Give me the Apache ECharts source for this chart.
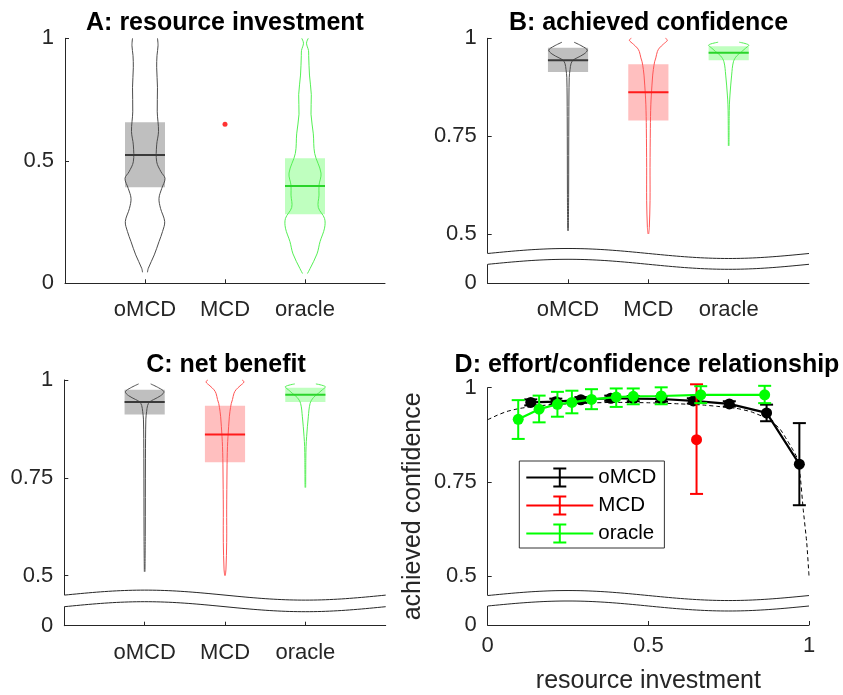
<!DOCTYPE html>
<html><head><meta charset="utf-8">
<script src="https://cdn.jsdelivr.net/npm/echarts@6/dist/echarts.min.js"></script>
<style>html,body{margin:0;padding:0;background:#fff}#c{width:843px;height:695px}</style>
</head><body><div id="c"></div>
<script>
// ---------- data ----------
const groups = ['oMCD', 'MCD', 'oracle'];

// Panel A: resource investment  [q1, median, q3]
const aBoxOMCD = [0.392, 0.524, 0.657];
const aBoxOracle = [0.282, 0.397, 0.510];
const aMCDValue = 0.649;
// violin outlines: [value, half-width in category units]
const aViolinOMCD = [[1.0,0.156],[0.97,0.163],[0.93,0.15],[0.88,0.146],[0.8,0.156],[0.7,0.153],[0.62,0.169],[0.565,0.146],[0.496,0.146],[0.455,0.2],[0.428,0.25],[0.387,0.209],[0.347,0.175],[0.306,0.194],[0.252,0.246],[0.211,0.219],[0.17,0.175],[0.116,0.116],[0.061,0.041],[0.045,0.031]];
const aViolinOracle = [[1.0,0.041],[0.98,0.019],[0.95,0.044],[0.93,0.046],[0.85,0.056],[0.77,0.079],[0.69,0.075],[0.61,0.104],[0.53,0.121],[0.45,0.2],[0.40,0.175],[0.36,0.175],[0.31,0.166],[0.265,0.244],[0.225,0.244],[0.17,0.188],[0.12,0.15],[0.06,0.063],[0.04,0.031]];

// Panel B: achieved confidence
const bBoxOMCD = [0.914, 0.944, 0.976];
const bBoxMCD = [0.790, 0.862, 0.934];
const bBoxOracle = [0.944, 0.963, 0.980];
const bViolinOMCD = [[0.99,0.075],[0.98,0.174],[0.97,0.24],[0.96,0.2],[0.95,0.112],[0.944,0.062],[0.935,0.037],[0.92,0.025],[0.9,0.015],[0.8,0.01],[0.6,0.0075],[0.508,0.004]];
const bViolinMCD = [[1.0,0.212],[0.995,0.237],[0.985,0.187],[0.975,0.137],[0.966,0.112],[0.95,0.093],[0.94,0.078],[0.92,0.062],[0.906,0.054],[0.855,0.037],[0.83,0.031],[0.8,0.027],[0.77,0.025],[0.67,0.021],[0.585,0.021],[0.517,0.012],[0.5,0.004]];
const bViolinOracle = [[0.99,0.131],[0.983,0.249],[0.975,0.212],[0.966,0.162],[0.955,0.1],[0.94,0.059],[0.906,0.037],[0.855,0.016],[0.83,0.009],[0.8,0.006],[0.725,0.004]];

// Panel C: net benefit
const cBoxOMCD = [0.912, 0.944, 0.975];
const cBoxMCD = [0.790, 0.861, 0.934];
const cBoxOracle = [0.944, 0.962, 0.980];
const cViolinOMCD = [[0.99,0.075],[0.98,0.174],[0.97,0.24],[0.96,0.2],[0.95,0.112],[0.944,0.062],[0.935,0.037],[0.92,0.025],[0.9,0.015],[0.8,0.01],[0.6,0.0075],[0.51,0.004]];
const cViolinMCD = [[1.0,0.212],[0.995,0.237],[0.985,0.187],[0.975,0.137],[0.966,0.112],[0.95,0.093],[0.94,0.078],[0.92,0.062],[0.906,0.054],[0.855,0.037],[0.83,0.031],[0.8,0.027],[0.77,0.025],[0.67,0.021],[0.585,0.021],[0.517,0.012],[0.5,0.004]];
const cViolinOracle = [[0.99,0.131],[0.983,0.249],[0.975,0.212],[0.966,0.162],[0.955,0.1],[0.94,0.059],[0.906,0.037],[0.855,0.016],[0.83,0.009],[0.8,0.006],[0.725,0.004]];

// Panel D: effort/confidence relationship
const dOMCDx  = [0.134, 0.212, 0.290, 0.383, 0.453, 0.541, 0.640, 0.752, 0.868, 0.970];
const dOMCDy  = [0.961, 0.963, 0.968, 0.972, 0.971, 0.970, 0.965, 0.957, 0.933, 0.797];
const dOMCDlo = [0.953, 0.955, 0.960, 0.965, 0.964, 0.963, 0.958, 0.950, 0.911, 0.688];
const dOMCDhi = [0.969, 0.971, 0.975, 0.979, 0.978, 0.977, 0.972, 0.964, 0.955, 0.906];
const dMCDx  = [0.650];
const dMCDy  = [0.862];
const dMCDlo = [0.718];
const dMCDhi = [1.009];
const dOracleX  = [0.095, 0.160, 0.217, 0.262, 0.323, 0.400, 0.453, 0.540, 0.663, 0.862];
const dOracleY  = [0.916, 0.943, 0.956, 0.961, 0.969, 0.975, 0.977, 0.978, 0.981, 0.981];
const dOracleLo = [0.864, 0.908, 0.923, 0.932, 0.943, 0.949, 0.956, 0.956, 0.959, 0.959];
const dOracleHi = [0.967, 0.979, 0.989, 0.992, 0.996, 0.998, 0.998, 1.001, 1.004, 1.005];
const dModelX = [0, 0.03, 0.06, 0.10, 0.15, 0.20, 0.30, 0.40, 0.50, 0.60, 0.67, 0.72, 0.775, 0.82, 0.868, 0.884, 0.91, 0.931, 0.95, 0.962, 0.972, 0.982, 0.993, 1.0];
const dModelY = [0.915, 0.927, 0.937, 0.945, 0.951, 0.955, 0.959, 0.961, 0.960, 0.957, 0.954, 0.950, 0.945, 0.936, 0.919, 0.910, 0.890, 0.862, 0.835, 0.815, 0.770, 0.677, 0.588, 0.5];

// tick labels
const catTicks = [1, 2, 3];
const aYTicks = [0, 0.5, 1];
const brokenYTicks = [0.5, 0.75, 1];
const dXTicks = [0, 0.5, 1];

// ---------- styles ----------
const F = "'Liberation Sans', Arial, Helvetica, sans-serif";
const AX = '#262626';
const COL = {
  oMCD:   {box: '#bfbfbf', med: '#3a3a3a', vio: '#4d4d4d', line: '#000000'},
  MCD:    {box: '#ffbfbf', med: '#ff1a1a', vio: '#ff5555', line: '#ff0000'},
  oracle: {box: '#bfffbf', med: '#2ad42a', vio: '#55f055', line: '#00ff00'}
};
const yMin = [0, 0.374, 0.372, 0.370];

function violinSeries(gi, xPos, box, violin, c) {
  return {
    type: 'custom', xAxisIndex: gi, yAxisIndex: gi, silent: true, clip: false, z: 3,
    data: [[xPos, box ? box[1] : violin[0][0]]],
    renderItem(params, api) {
      const ch = [];
      if (box) {
        const p1 = api.coord([xPos - 0.25, box[2]]), p2 = api.coord([xPos + 0.25, box[0]]);
        ch.push({type: 'rect', shape: {x: p1[0], y: p1[1], width: p2[0] - p1[0], height: p2[1] - p1[1]}, style: {fill: c.box}});
      }
      if (violin) {
        for (const s of [-1, 1]) {
          const pts = violin.map(([v, w]) => api.coord([xPos + s * w, v]));
          ch.push({type: 'polyline', shape: {points: pts, smooth: 0.35}, style: {stroke: c.vio, lineWidth: 1, fill: null}});
        }
      }
      if (box) {
        const m1 = api.coord([xPos - 0.25, box[1]]), m2 = api.coord([xPos + 0.25, box[1]]);
        ch.push({type: 'line', shape: {x1: m1[0], y1: m1[1], x2: m2[0], y2: m2[1]}, style: {stroke: c.med, lineWidth: 2}});
      }
      return {type: 'group', children: ch};
    }
  };
}

function zip(xs, ys) { return xs.map((x, i) => [x, ys[i]]); }
function errSeries(xs, ys, lo, hi, color, z) {
  return {
    type: 'custom', xAxisIndex: 3, yAxisIndex: 3, silent: true, clip: false, z: z,
    data: xs.map((x, i) => [x, ys[i], lo[i], hi[i]]),
    renderItem(params, api) {
      const x = api.value(0);
      const a = api.coord([x, api.value(2)]), b = api.coord([x, api.value(3)]);
      const w = 6.5, st = {stroke: color, lineWidth: 2};
      return {type: 'group', children: [
        {type: 'line', shape: {x1: a[0], y1: a[1], x2: b[0], y2: b[1]}, style: st},
        {type: 'line', shape: {x1: a[0] - w, y1: a[1], x2: a[0] + w, y2: a[1]}, style: st},
        {type: 'line', shape: {x1: b[0] - w, y1: b[1], x2: b[0] + w, y2: b[1]}, style: st}
      ]};
    }
  };
}
function lineSeries(name, xs, ys, color, z) {
  return {
    type: 'line', name: name, xAxisIndex: 3, yAxisIndex: 3, data: zip(xs, ys), z: z,
    symbol: 'circle', symbolSize: 11, showSymbol: true, silent: true, clip: false,
    lineStyle: {color: color, width: 2.2}, itemStyle: {color: color, borderWidth: 0},
    emphasis: {disabled: true}
  };
}

const grids = [
  {left: 65, top: 38.3, width: 320, height: 245},
  {left: 487.7, top: 38.3, width: 321.3, height: 245},
  {left: 64.3, top: 380, width: 321.4, height: 245.7},
  {left: 487.7, top: 387.7, width: 321.3, height: 238}
];

function baseAxisLine() { return {show: true, onZero: false, lineStyle: {color: AX, width: 1}}; }
function catXAxis(gi) {
  return {
    type: 'value', gridIndex: gi, min: 0, max: 4,
    axisLine: baseAxisLine(),
    axisTick: {show: true, inside: true, length: 4, customValues: catTicks, lineStyle: {color: AX}},
    axisLabel: {customValues: catTicks, formatter: v => groups[Math.round(v) - 1], fontSize: 22, color: AX, margin: 16, fontFamily: F},
    splitLine: {show: false}
  };
}
function brokenYAxis(gi) {
  const vals = [yMin[gi]].concat(brokenYTicks);
  return {
    type: 'value', gridIndex: gi, min: yMin[gi], max: 1,
    axisLine: baseAxisLine(),
    axisTick: {show: true, inside: true, length: 4, customValues: vals, lineStyle: {color: AX}},
    axisLabel: {customValues: vals, formatter: v => (v < 0.45 ? '0' : String(v)), fontSize: 22, color: AX, margin: 11, fontFamily: F},
    splitLine: {show: false}
  };
}

const titleStyle = {fontSize: 25, fontWeight: 'bold', color: '#000', fontFamily: F};
const option = {
  animation: false,
  backgroundColor: '#fff',
  title: [
    {text: 'A: resource investment', left: 225, top: 11, textAlign: 'center', padding: 0, textStyle: titleStyle},
    {text: 'B: achieved confidence', left: 648.5, top: 11, textAlign: 'center', padding: 0, textStyle: titleStyle},
    {text: 'C: net benefit', left: 226, top: 353, textAlign: 'center', padding: 0, textStyle: titleStyle},
    {text: 'D: effort/confidence relationship', left: 647, top: 353, textAlign: 'center', padding: 0, textStyle: titleStyle}
  ],
  grid: grids,
  xAxis: [
    catXAxis(0), catXAxis(1), catXAxis(2),
    {
      type: 'value', gridIndex: 3, min: 0, max: 1,
      axisLine: baseAxisLine(),
      axisTick: {show: true, inside: true, length: 4, customValues: dXTicks, lineStyle: {color: AX}},
      axisLabel: {customValues: dXTicks, formatter: v => String(v), fontSize: 22, color: AX, margin: 10, fontFamily: F},
      splitLine: {show: false},
      name: 'resource investment', nameLocation: 'middle', nameGap: 44,
      nameTextStyle: {fontSize: 25, color: AX, fontFamily: F}
    }
  ],
  yAxis: [
    {
      type: 'value', gridIndex: 0, min: 0, max: 1,
      axisLine: baseAxisLine(),
      axisTick: {show: true, inside: true, length: 4, customValues: aYTicks, lineStyle: {color: AX}},
      axisLabel: {customValues: aYTicks, formatter: v => String(v), fontSize: 22, color: AX, margin: 11, fontFamily: F},
      splitLine: {show: false}
    },
    brokenYAxis(1), brokenYAxis(2),
    Object.assign(brokenYAxis(3), {
      name: 'achieved confidence', nameLocation: 'middle', nameGap: 62, nameRotate: 90,
      nameTextStyle: {fontSize: 25, color: AX, fontFamily: F}
    })
  ],
  legend: {
    orient: 'vertical', left: 519.3, top: 461,
    padding: [6, 8, 4, 7], itemWidth: 67, itemHeight: 20, itemGap: 7,
    borderColor: '#333', borderWidth: 1, borderRadius: 0, backgroundColor: '#fff',
    selectedMode: false, symbolKeepAspect: false,
    icon: 'path://M0,9L67,9L67,11L0,11Z M32.5,0L34.5,0L34.5,20L32.5,20Z M27,0L40,0L40,2L27,2Z M27,18L40,18L40,20L27,20Z',
    itemStyle: {borderWidth: 0},
    textStyle: {fontSize: 20.5, color: '#000', fontFamily: F, lineHeight: 20},
    data: groups
  },
  series: [
    // Panel A
    violinSeries(0, 1, aBoxOMCD, aViolinOMCD, COL.oMCD),
    violinSeries(0, 3, aBoxOracle, aViolinOracle, COL.oracle),
    {type: 'scatter', xAxisIndex: 0, yAxisIndex: 0, data: [[2, aMCDValue]], symbolSize: 5, itemStyle: {color: '#ff0000'}, silent: true, z: 3},
    // Panel B
    violinSeries(1, 1, bBoxOMCD, bViolinOMCD, COL.oMCD),
    violinSeries(1, 2, bBoxMCD, bViolinMCD, COL.MCD),
    violinSeries(1, 3, bBoxOracle, bViolinOracle, COL.oracle),
    // Panel C
    violinSeries(2, 1, cBoxOMCD, cViolinOMCD, COL.oMCD),
    violinSeries(2, 2, cBoxMCD, cViolinMCD, COL.MCD),
    violinSeries(2, 3, cBoxOracle, cViolinOracle, COL.oracle),
    // Panel D
    {type: 'line', xAxisIndex: 3, yAxisIndex: 3, data: zip(dModelX, dModelY), showSymbol: false, symbol: 'none', smooth: 0.2, silent: true, z: 2,
     lineStyle: {color: '#000', width: 1, type: [4, 3]}},
    errSeries(dOMCDx, dOMCDy, dOMCDlo, dOMCDhi, COL.oMCD.line, 3),
    lineSeries('oMCD', dOMCDx, dOMCDy, COL.oMCD.line, 4),
    errSeries(dMCDx, dMCDy, dMCDlo, dMCDhi, COL.MCD.line, 5),
    lineSeries('MCD', dMCDx, dMCDy, COL.MCD.line, 6),
    errSeries(dOracleX, dOracleY, dOracleLo, dOracleHi, COL.oracle.line, 7),
    lineSeries('oracle', dOracleX, dOracleY, COL.oracle.line, 8)
  ]
};

const chart = echarts.init(document.getElementById('c'), null, {renderer: 'canvas'});
chart.setOption(option);

// axis-break decoration (white gap between two wavy lines) on panels B, C, D
(function addBreaks() {
  const els = [];
  for (const gi of [1, 2, 3]) {
    const xmax = gi === 3 ? 1 : 4;
    const tl = chart.convertToPixel({gridIndex: gi}, [0, 1]);
    const br = chart.convertToPixel({gridIndex: gi}, [xmax, yMin[gi]]);
    const p05 = chart.convertToPixel({gridIndex: gi}, [0, 0.5]);
    const x0 = tl[0], w = br[0] - tl[0], bottom = br[1];
    const yu = p05[1] + 19.5, yl = bottom - 19, amp = 5, N = 80;
    const up = [], lo = [];
    for (let i = 0; i <= N; i++) {
      const t = i / N, s = Math.sin(2 * Math.PI * t);
      up.push([x0 + t * w, yu - amp * s]);
      lo.push([x0 + t * w, yl - amp * s]);
    }
    const poly = [[x0 - 3, up[0][1]]].concat(up, lo.slice().reverse(), [[x0 - 3, lo[0][1]]]);
    els.push({type: 'polygon', shape: {points: poly}, style: {fill: '#fff'}, z: 100, silent: true});
    els.push({type: 'polyline', shape: {points: up}, style: {stroke: AX, lineWidth: 1, fill: null}, z: 101, silent: true});
    els.push({type: 'polyline', shape: {points: lo}, style: {stroke: AX, lineWidth: 1, fill: null}, z: 101, silent: true});
  }
  chart.setOption({graphic: els});
})();
</script>
</body></html>
